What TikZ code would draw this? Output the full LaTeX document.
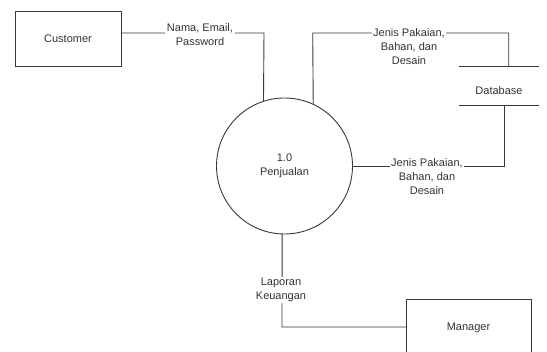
\documentclass[tikz,border=0pt]{standalone}
\usepackage{fontspec}
\setmainfont{Liberation Sans}
\begin{document}
\begin{tikzpicture}[x=1pt,y=-1pt,
  every node/.style={text=black!80, font=\fontsize{11}{14.2}\selectfont},
  entity/.style={draw=black!78, line width=0.9pt, rectangle, outer sep=0pt},
  proc/.style={draw=black!78, line width=0.9pt, circle, minimum size=136pt, outer sep=0pt, align=center, inner sep=0pt},
  flow/.style={draw=black!78, line width=0.9pt},
  flowlabel/.style={fill=white, align=center, inner xsep=1.5pt, inner ysep=1pt, anchor=north},
  store/.style={minimum width=80pt, minimum height=39pt, inner sep=0pt, outer sep=0pt}]
\useasboundingbox (0,0) rectangle (547,352);
\clip (0,0) rectangle (547,352);

\node[entity, minimum width=106pt, minimum height=55pt] (cust) at (68,38.5) {Customer};
\node[proc] (p) at (284.5,166) {1.0\\Penjualan};
\node[store] (db) at (499,85.5) {};
\node (dbt) at (499,90.5) {Database};
\draw[flow] (db.north west) -- (db.north east);
\draw[flow] (db.south west) -- (db.south east);
\node[entity, minimum width=125pt, minimum height=58pt] (mgr) at (468.5,328) {Manager};

% Customer -> process
\coordinate (c1) at (264,33);
\draw[flow] (cust.east |- c1) -- (c1) -- (p.108.1);
\node[flowlabel] (l1) at (200,22) {Nama, Email,\\Password};

% process -> database
\coordinate (c2) at (312.7,33);
\coordinate (c3) at (508.7,33);
\draw[flow] (p.65.9) -- (c2) -- (c3) -- (c3 |- db.north);
\node[flowlabel] (l2) at (409,27) {Jenis Pakaian,\\Bahan, dan\\Desain};

% database -> process
\coordinate (c4) at (504,166);
\draw[flow] (c4 |- db.south) -- (c4) -- (p.east);
\node[flowlabel] (l3) at (427,157) {Jenis Pakaian,\\Bahan, dan\\Desain};

% process -> manager
\coordinate (c5) at (282,327);
\draw[flow] (p.268.2) -- (c5) -- (mgr.west |- c5);
\node[flowlabel] (l4) at (281,277) {Laporan\\Keuangan};
\end{tikzpicture}
\end{document}
